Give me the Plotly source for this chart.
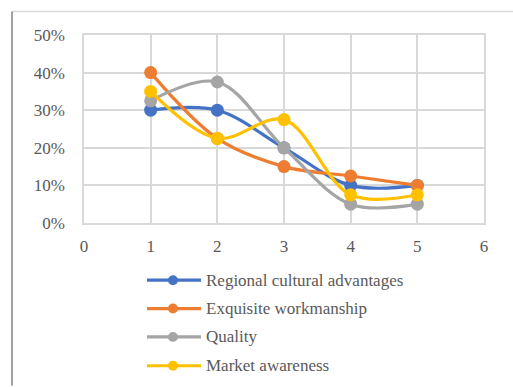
import plotly.graph_objects as go

x_vals = [1, 2, 3, 4, 5]
series_names = ["Regional cultural advantages", "Exquisite workmanship", "Quality", "Market awareness"]
regional = [0.30, 0.30, 0.20, 0.10, 0.10]
workmanship = [0.40, 0.225, 0.15, 0.125, 0.10]
quality = [0.325, 0.375, 0.20, 0.05, 0.05]
market = [0.35, 0.225, 0.275, 0.075, 0.075]
colors = ["#4472C4", "#ED7D31", "#A5A5A5", "#FFC000"]
y_ticks = [0, 0.1, 0.2, 0.3, 0.4, 0.5]
y_labels = ["0%", "10%", "20%", "30%", "40%", "50%"]
x_ticks = [0, 1, 2, 3, 4, 5, 6]

W, H = 513, 387
L, R, T, B = 84, 29, 34.5, 163.5
pw, ph = W - L - R, H - T - B
FONT = "Liberation Serif, Times New Roman, serif"

def px(xp):
    return (xp - L) / pw

def py(yp):
    return (H - B - yp) / ph

fig = go.Figure()
for name, ys, c in zip(series_names, [regional, workmanship, quality, market], colors):
    fig.add_trace(go.Scatter(
        x=x_vals, y=ys, name=name, mode="lines+markers",
        line=dict(color=c, width=3.2, shape="spline", smoothing=1.0),
        marker=dict(color=c, size=13),
        showlegend=False, cliponaxis=False,
    ))

shapes = []
annotations = []
shapes.append(dict(type="line", xref="paper", yref="paper", x0=px(12), x1=px(513), y0=py(11), y1=py(11),
                   line=dict(color="#D9D9D9", width=1.5)))
shapes.append(dict(type="line", xref="paper", yref="paper", x0=px(12), x1=px(12), y0=py(11), y1=py(387),
                   line=dict(color="#404040", width=1)))

leg_y = [281, 309.5, 338, 367]
for name, c, yy in zip(series_names, colors, leg_y):
    shapes.append(dict(type="line", xref="paper", yref="paper", x0=px(147), x1=px(201), y0=py(yy), y1=py(yy),
                       line=dict(color=c, width=3.2)))
    r = 5
    shapes.append(dict(type="circle", xref="paper", yref="paper", x0=px(173 - r), x1=px(173 + r),
                       y0=py(yy + r), y1=py(yy - r), fillcolor=c, line=dict(color=c, width=0)))
    annotations.append(dict(xref="paper", yref="paper", x=px(204), y=py(yy), text=name, showarrow=False,
                            xanchor="left", yanchor="middle",
                            font=dict(family=FONT, size=17, color="#595959")))

fig.update_layout(
    width=W, height=H,
    margin=dict(l=L, r=R, t=T, b=B, pad=0),
    paper_bgcolor="white", plot_bgcolor="white",
    font=dict(family=FONT, size=17, color="#595959"),
    shapes=shapes, annotations=annotations,
    xaxis=dict(range=[0, 6], tickvals=x_ticks, showgrid=True, gridcolor="#D9D9D9", gridwidth=1.5,
               zeroline=False, showline=True, linecolor="#D9D9D9", linewidth=1.5, mirror=True,
               ticks="", ticklabelstandoff=7, fixedrange=True,
               tickfont=dict(family=FONT, size=17, color="#595959")),
    yaxis=dict(range=[0, 0.5], tickvals=y_ticks, ticktext=y_labels, showgrid=True, gridcolor="#D9D9D9",
               gridwidth=1.5, zeroline=False, showline=True, linecolor="#D9D9D9", linewidth=1.5, mirror=True,
               ticks="", ticklabelstandoff=14, fixedrange=True,
               tickfont=dict(family=FONT, size=17, color="#595959")),
)

fig.write_html("out.html")
